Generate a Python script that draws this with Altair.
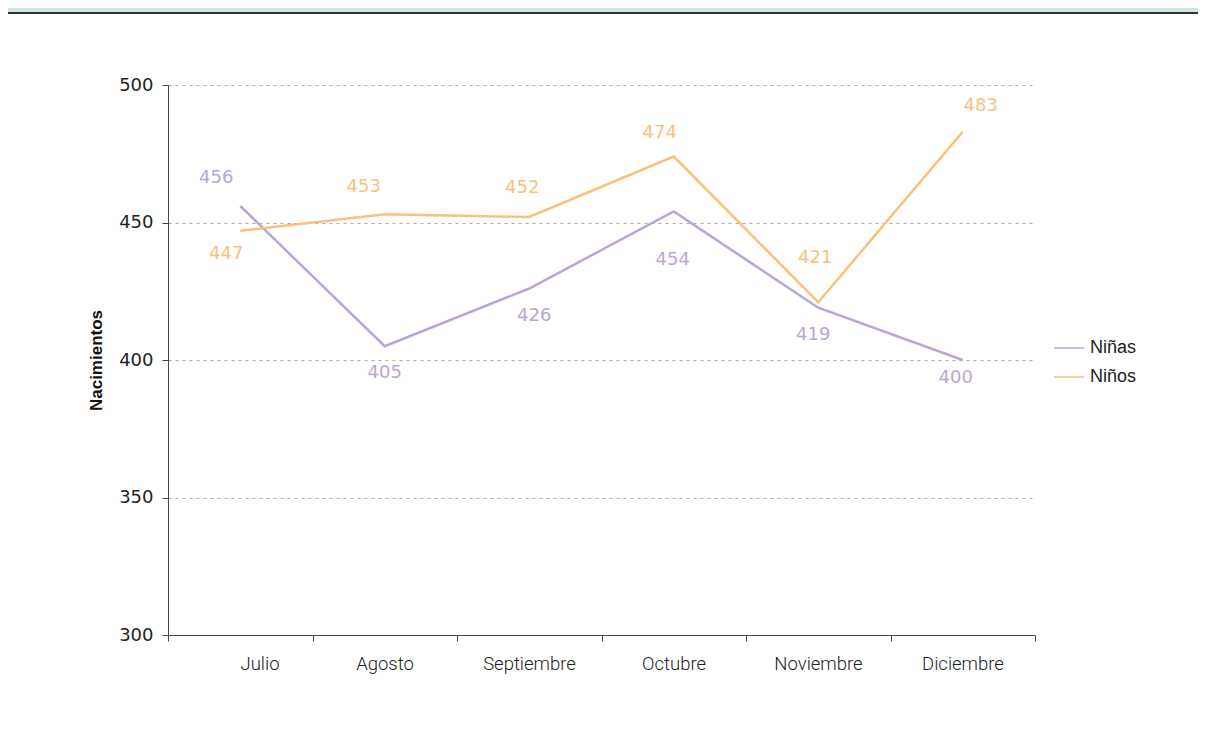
import altair as alt
import pandas as pd

meses = ["Julio", "Agosto", "Septiembre", "Octubre", "Noviembre", "Diciembre"]
ninas = [456, 405, 426, 454, 419, 400]
ninos = [447, 453, 452, 474, 421, 483]
series = ["Niñas", "Niños"]
colores = ["#bca4d6", "#fbc17c"]

rows = []
for i, m in enumerate(meses):
    rows.append({"mes": m, "idx": i + 0.5, "serie": "Niñas", "valor": ninas[i]})
    rows.append({"mes": m, "idx": i + 0.5, "serie": "Niños", "valor": ninos[i]})
df = pd.DataFrame(rows)

# label placement offsets (style only): (dx, dy) per series and month
offsets = {
    "Niñas": [(-24, -28), (0, 27), (5, 27), (-1, 48), (-5, 27), (-7, 18)],
    "Niños": [(-14, 23), (-21, -27), (-7, -29), (-14, -24), (-3, -44), (18, -26)],
}

label_arr = "[" + ",".join("'" + m + "'" for m in meses) + ",'']"

NUMFONT = "DejaVu Sans"
TXTFONT = "Liberation Sans"
MONFONT = "Roboto"

color_scale = alt.Scale(domain=series, range=colores)
color = alt.Color(
    "serie:N",
    scale=color_scale,
    legend=alt.Legend(
        title=None, orient="none", legendX=885, legendY=247,
        symbolType="stroke", symbolStrokeWidth=1.5, symbolSize=900,
        labelFont=TXTFONT, labelFontSize=18, labelColor="#222",
        rowPadding=4, labelOffset=5,
    ),
)

x = alt.X(
    "idx:Q",
    scale=alt.Scale(domain=[0, 6], nice=False, zero=False),
    axis=alt.Axis(
        values=[0, 1, 2, 3, 4, 5, 6], labelExpr=label_arr + "[datum.value]",
        labelOffset=72, labelPadding=13, tickSize=6, grid=False, title=None,
        labelFont=MONFONT, labelFontSize=18.5, labelFontWeight=300, labelColor="#222",
        domainColor="#444", tickColor="#444",
    ),
)
y = alt.Y(
    "valor:Q",
    scale=alt.Scale(domain=[300, 500], nice=False, zero=False),
    axis=alt.Axis(
        values=[300, 350, 400, 450, 500], title="Nacimientos",
        titleFont=TXTFONT, titleFontSize=17, titleFontWeight="bold", titleColor="#111",
        titlePadding=13, labelFont=NUMFONT, labelFontSize=18, labelColor="#222",
        labelPadding=9, tickSize=6, domainColor="#444", tickColor="#444",
        grid=True, gridColor="#aaa", gridDash=[3, 4], gridWidth=1,
    ),
)

base = alt.Chart(df)
lines = base.mark_line(strokeWidth=2.5).encode(x=x, y=y, color=color)

texts = []
for s in series:
    for i, m in enumerate(meses):
        dx, dy = offsets[s][i]
        texts.append(
            base.transform_filter(
                f"datum.serie == '{s}' && datum.mes == '{m}'"
            ).mark_text(
                font=NUMFONT, fontSize=18, dx=dx, dy=dy, baseline="middle"
            ).encode(
                x="idx:Q", y="valor:Q", text="valor:Q",
                color=alt.Color("serie:N", scale=color_scale, legend=None),
            )
        )

# decorative frame: green strip and dark border line at the top
frame_df = pd.DataFrame({"k": [0]})
strip = alt.Chart(frame_df).mark_rect(color="#cfe8dc").encode(
    x=alt.value(-160), x2=alt.value(1030), y=alt.value(-77), y2=alt.value(-73)
)
border = alt.Chart(frame_df).mark_rule(color="#333", strokeWidth=2).encode(
    x=alt.value(-160), x2=alt.value(1030), y=alt.value(-72)
)

chart = alt.layer(strip, border, lines, *texts).properties(
    width=867, height=550,
    autosize=alt.AutoSizeParams(type="none"),
    padding={"left": 160, "top": 77, "right": 163, "bottom": 90},
    background="white",
).configure_view(stroke=None)

chart.save("out.html", embed_options={"renderer": "svg", "actions": False})
